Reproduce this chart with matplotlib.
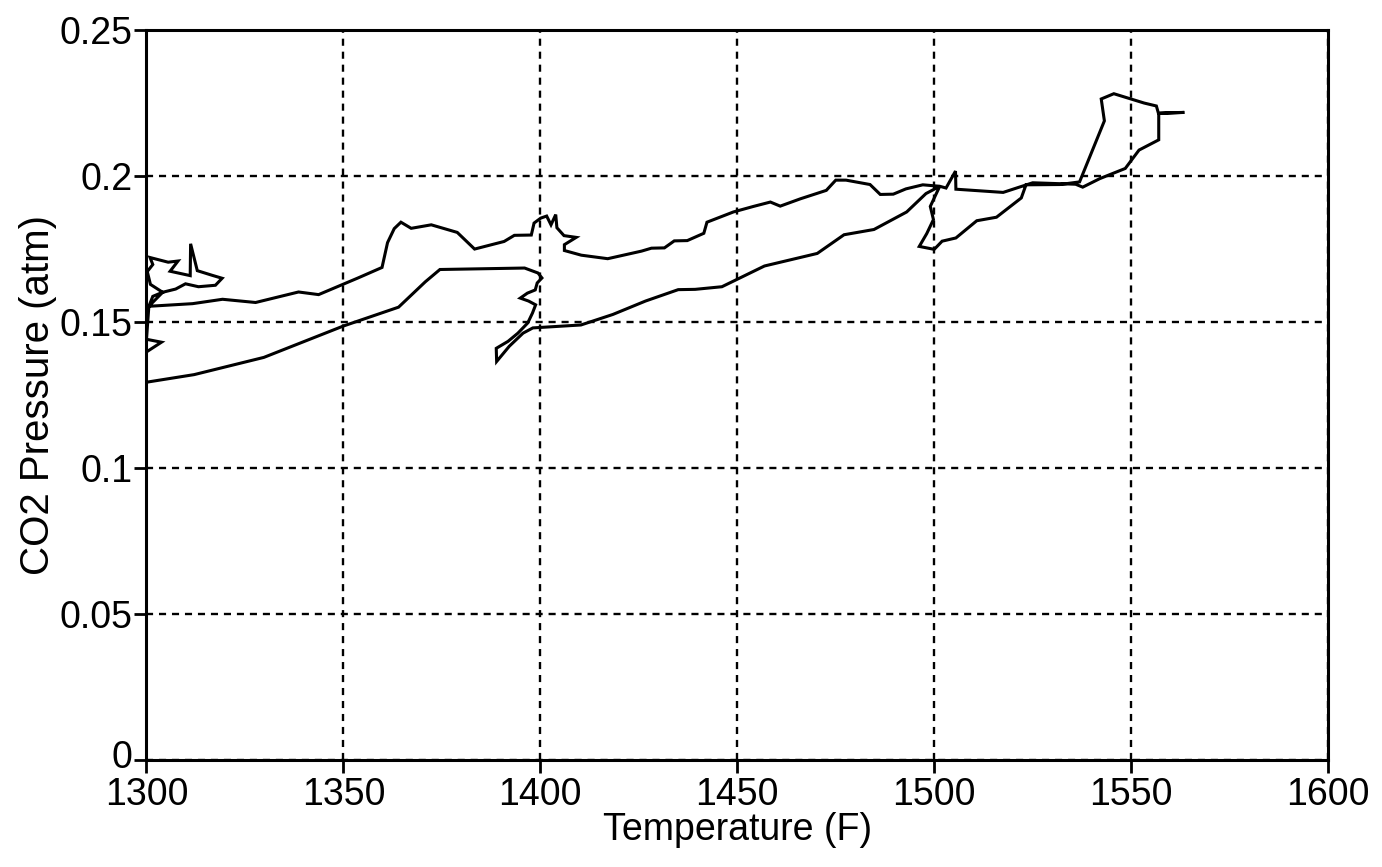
import matplotlib
matplotlib.use("Agg")
import matplotlib.pyplot as plt
import matplotlib.transforms as mtransforms

plt.rcParams['font.family'] = ['Liberation Sans', 'DejaVu Sans']

# temperature (F) and CO2 pressure (atm), one continuous path
temp = [
    1300.0, 1312.1, 1329.8, 1349.9, 1364.0, 1370.8, 1374.5, 1396.0, 1399.4, 1400.4,
    1399.2, 1398.7, 1396.7, 1394.9, 1397.0, 1398.8, 1398.0, 1396.8, 1394.3, 1391.8,
    1388.8, 1388.9, 1392.1, 1395.6, 1398.1, 1410.3, 1418.4, 1426.7, 1435.0, 1439.3,
    1446.1, 1456.9, 1470.3, 1477.1, 1484.7, 1493.0, 1497.9, 1501.4, 1499.0, 1499.8,
    1498.1, 1496.2, 1500.0, 1502.0, 1505.5, 1510.8, 1515.8, 1522.1, 1523.3, 1531.9,
    1536.9, 1543.2, 1542.4, 1545.6, 1553.3, 1556.4, 1556.9, 1563.5, 1557.0, 1557.0,
    1552.0, 1548.5, 1542.0, 1537.7, 1535.9, 1525.0, 1517.5, 1505.5, 1505.4, 1503.0,
    1501.4, 1497.1, 1492.8, 1489.6, 1486.3, 1483.7, 1477.6, 1475.0, 1472.6, 1466.0,
    1460.9, 1458.4, 1454.1, 1449.0, 1442.3, 1441.5, 1437.3, 1434.0, 1431.5, 1428.2,
    1425.7, 1417.1, 1410.4, 1406.1, 1406.1, 1409.1, 1406.0, 1404.2, 1403.9, 1402.7,
    1401.6, 1400.1, 1398.4, 1397.7, 1393.4, 1390.8, 1383.3, 1378.9, 1372.3, 1367.2,
    1364.6, 1362.9, 1361.2, 1359.8, 1353.7, 1343.7, 1338.6, 1327.7, 1319.3, 1311.7,
    1300.6, 1301.6, 1304.1, 1301.0, 1300.2, 1301.6, 1300.9, 1305.5, 1308.0, 1306.0,
    1311.1, 1311.2, 1312.9, 1316.7, 1319.2, 1317.5, 1313.2, 1309.9, 1307.4, 1304.1,
    1300.6, 1300.0, 1303.8, 1299.8, 1300.0,
]
pco2 = [
    0.1295, 0.1321, 0.1380, 0.1487, 0.1552, 0.1639, 0.1681, 0.1686, 0.1669, 0.1652,
    0.1635, 0.1611, 0.1600, 0.1583, 0.1573, 0.1560, 0.1532, 0.1498, 0.1463, 0.1435,
    0.1411, 0.1366, 0.1418, 0.1463, 0.1481, 0.1491, 0.1527, 0.1573, 0.1612, 0.1613,
    0.1622, 0.1693, 0.1736, 0.1800, 0.1818, 0.1878, 0.1941, 0.1966, 0.1897, 0.1852,
    0.1804, 0.1760, 0.1750, 0.1778, 0.1789, 0.1848, 0.1860, 0.1926, 0.1971, 0.1972,
    0.1981, 0.2190, 0.2265, 0.2283, 0.2251, 0.2241, 0.2217, 0.2219, 0.2215, 0.2125,
    0.2090, 0.2027, 0.1992, 0.1963, 0.1973, 0.1978, 0.1945, 0.1956, 0.2018, 0.1960,
    0.1966, 0.1971, 0.1957, 0.1939, 0.1938, 0.1972, 0.1987, 0.1987, 0.1952, 0.1923,
    0.1898, 0.1912, 0.1897, 0.1878, 0.1843, 0.1805, 0.1780, 0.1779, 0.1755, 0.1754,
    0.1744, 0.1718, 0.1730, 0.1746, 0.1766, 0.1791, 0.1797, 0.1824, 0.1869, 0.1834,
    0.1864, 0.1857, 0.1840, 0.1799, 0.1798, 0.1777, 0.1751, 0.1808, 0.1834, 0.1822,
    0.1843, 0.1821, 0.1773, 0.1688, 0.1652, 0.1595, 0.1604, 0.1568, 0.1579, 0.1564,
    0.1555, 0.1589, 0.1603, 0.1630, 0.1674, 0.1698, 0.1722, 0.1706, 0.1710, 0.1675,
    0.1660, 0.1769, 0.1677, 0.1661, 0.1651, 0.1627, 0.1622, 0.1632, 0.1614, 0.1603,
    0.1555, 0.1442, 0.1432, 0.1397, 0.1295,
]

x_ticks = [1300, 1350, 1400, 1450, 1500, 1550, 1600]
y_ticks = [0, 0.05, 0.1, 0.15, 0.2, 0.25]
y_labels = ["0", "0.05", "0.1", "0.15", "0.2", "0.25"]

fig = plt.figure(figsize=(13.82, 8.67), dpi=100)
ax = fig.add_axes([0.106, 0.123, 0.855, 0.842])

ax.plot(temp, pco2, color="black", linewidth=2.2, solid_joinstyle="miter")

ax.set_xlim(1300, 1600)
ax.set_ylim(0, 0.25)
ax.set_xticks(x_ticks)
ax.set_yticks(y_ticks)
ax.set_yticklabels(y_labels)
ax.grid(True, color="black", linestyle=(0, (3, 2.5)), linewidth=1.7)

for s in ax.spines.values():
    s.set_linewidth(2.2)
ax.tick_params(direction="out", length=9, width=2, labelsize=27)
ax.tick_params(axis="x", pad=3)
ax.tick_params(axis="y", pad=1)
# lift the "0" label a few pixels so it clears "1300"
zero = ax.get_yticklabels()[0]
zero.set_transform(zero.get_transform() + mtransforms.ScaledTranslation(0, 6 / 100, fig.dpi_scale_trans))

ax.set_xlabel("Temperature (F)", fontsize=27, labelpad=-1)
ax.set_ylabel("CO2 Pressure (atm)", fontsize=29, labelpad=2)

plt.savefig("out.png", dpi=100)
